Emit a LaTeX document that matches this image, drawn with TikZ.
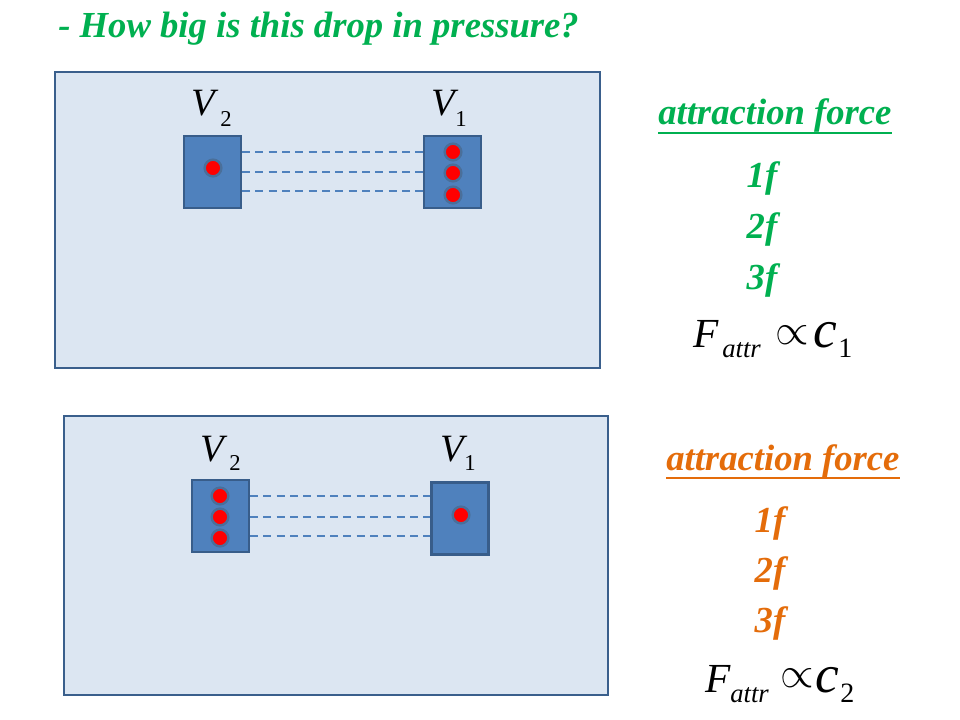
\documentclass[tikz,border=0pt]{standalone}
\usepackage{fontspec}
\setmainfont{Liberation Serif}
\usetikzlibrary{calc}
\definecolor{pgreen}{HTML}{00B050}
\definecolor{porange}{HTML}{E46C0A}
\definecolor{panelfill}{HTML}{DCE6F2}
\definecolor{panelline}{HTML}{3A5F8C}
\definecolor{boxfill}{HTML}{4F81BD}
\definecolor{boxline}{HTML}{385D8A}
\definecolor{dotline}{HTML}{4A6F9A}
\tikzset{
  panel/.style={draw=panelline, fill=panelfill, line width=1.8pt},
  vbox/.style={draw=boxline, fill=boxfill, line width=1.6pt, inner sep=0pt, minimum width=42.75pt, minimum height=54pt},
  mol/.style={circle, draw=dotline, fill=red, line width=1.8pt, inner sep=0pt, minimum size=12.5pt},
  bond/.style={draw=boxfill, line width=1.1pt, dash pattern=on 6pt off 4pt},
  heading/.style={inner sep=0pt, anchor=base west, font=\fontsize{27.5}{32}\selectfont\bfseries\itshape},
  flabel/.style={inner sep=0pt, anchor=base, font=\fontsize{27.5}{32}\selectfont\bfseries\itshape},
  vlet/.style={inner sep=0pt, anchor=base west, font=\fontsize{29}{32}\selectfont\itshape},
  vsub/.style={inner sep=0pt, anchor=base west, font=\fontsize{17}{20}\selectfont},
  eqF/.style={inner sep=0pt, anchor=base west, font=\fontsize{31}{34}\selectfont\itshape},
  eqsub/.style={inner sep=0pt, anchor=base west, font=\fontsize{20}{24}\selectfont\itshape},
  eqc/.style={inner sep=0pt, anchor=base west, font=\fontsize{40}{44}\selectfont\itshape},
  eqnum/.style={inner sep=0pt, anchor=base west, font=\fontsize{21}{24}\selectfont},
  eqprop/.style={inner sep=0pt, anchor=center, font=\fontsize{24}{28}\selectfont},
  uline/.style={line width=2.2pt}
}
\begin{document}
\begin{tikzpicture}[x=0.75pt, y=-0.75pt]
\useasboundingbox[fill=white] (0,0) rectangle (960,720);

% title
\node[heading, text=pgreen] (title) at (58,38) {- How big is this drop in pressure?};

% ---------- top panel ----------
\draw[panel] (55,72) rectangle (600,368);
\node[vbox] (tl) at (212.5,172) {};
\node[vbox] (tr) at (452.5,172) {};
\node[mol] (tl1) at (213,168) {};
\node[mol] (tr1) at (453,152) {};
\node[mol] (tr2) at (453,173) {};
\node[mol] (tr3) at (453,195) {};
\coordinate (ta1) at (0,152);
\coordinate (ta2) at (0,172);
\coordinate (ta3) at (0,191);
\draw[bond] (tl.east |- ta1) -- (tr.west |- ta1);
\draw[bond] (tl.east |- ta2) -- (tr.west |- ta2);
\draw[bond] (tl.east |- ta3) -- (tr.west |- ta3);
\node[vlet] (tv2) at (191,116) {V};
\node[vsub] (tv2s) at (220,127) {2};
\node[vlet] (tv1) at (431,116) {V};
\node[vsub] (tv1s) at (455,127) {1};

% top right text
\node[heading, text=pgreen] (ta) at (658,125) {attraction force};
\draw[uline, pgreen] ($(ta.base west)+(0,8)$) -- ($(ta.base east)+(0,8)$);
\node[flabel, text=pgreen] (t1f) at (762,188) {1f};
\node[flabel, text=pgreen] (t2f) at (762,239) {2f};
\node[flabel, text=pgreen] (t3f) at (762,290) {3f};
\node[eqF] (tF) at (693,347) {F};
\node[eqsub] (tFs) at (722,357) {attr};
\node[eqprop] (tp) at (792,335) {\scalebox{1.3}{$\propto$}};
\node[eqc] (tc) at (813,347) {c};
\node[eqnum] (tcs) at (838,357) {1};

% ---------- bottom panel ----------
\draw[panel] (64,416) rectangle (608,695);
\node[vbox] (bl) at (220.5,516) {};
\node[vbox] (br) at (460,518.5) {};
\node[mol] (bl1) at (220,496) {};
\node[mol] (bl2) at (220,517) {};
\node[mol] (bl3) at (220,538) {};
\node[mol] (br1) at (461,515) {};
\coordinate (ba1) at (0,496);
\coordinate (ba2) at (0,517);
\coordinate (ba3) at (0,536);
\draw[bond] (bl.east |- ba1) -- (br.west |- ba1);
\draw[bond] (bl.east |- ba2) -- (br.west |- ba2);
\draw[bond] (bl.east |- ba3) -- (br.west |- ba3);
\node[vlet] (bv2) at (200,461) {V};
\node[vsub] (bv2s) at (229,470) {2};
\node[vlet] (bv1) at (440,461) {V};
\node[vsub] (bv1s) at (464,470) {1};

% bottom right text
\node[heading, text=porange] (ba) at (666,470) {attraction force};
\draw[uline, porange] ($(ba.base west)+(0,8)$) -- ($(ba.base east)+(0,8)$);
\node[flabel, text=porange] (b1f) at (770,532) {1f};
\node[flabel, text=porange] (b2f) at (770,582) {2f};
\node[flabel, text=porange] (b3f) at (770,632) {3f};
\node[eqF] (bF) at (705,692) {F};
\node[eqsub] (bFs) at (730,702) {attr};
\node[eqprop] (bp) at (797,678) {\scalebox{1.3}{$\propto$}};
\node[eqc] (bc) at (815,692) {c};
\node[eqnum] (bcs) at (840,702) {2};
\end{tikzpicture}
\end{document}
